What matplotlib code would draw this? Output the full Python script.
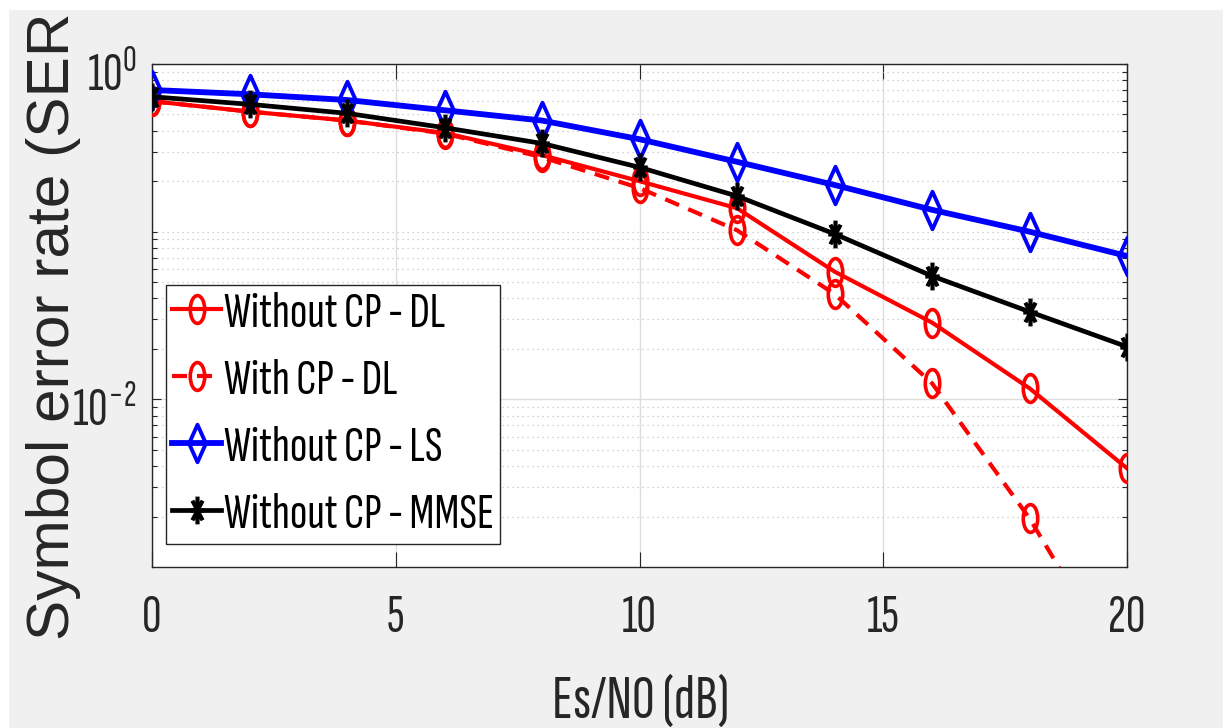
import numpy as np
import matplotlib
matplotlib.use("Agg")
import matplotlib.pyplot as plt
from matplotlib.path import Path
from matplotlib.transforms import Affine2D, ScaledTranslation
from matplotlib.patches import Rectangle
from matplotlib.ticker import NullFormatter, NullLocator

# ---------------- data ----------------
snr_db = [0, 2, 4, 6, 8, 10, 12, 14, 16, 18, 20]
ser_dl_without_cp = [0.60, 0.52, 0.46, 0.388, 0.286, 0.200, 0.138, 0.0578, 0.0287, 0.01164, 0.00388]
ser_dl_with_cp = [0.60, 0.52, 0.46, 0.385, 0.278, 0.182, 0.102, 0.0425, 0.01247, 0.00195, 0.00021]
ser_ls_without_cp = [0.70, 0.66, 0.61, 0.53, 0.46, 0.356, 0.261, 0.190, 0.135, 0.100, 0.0716]
ser_mmse_without_cp = [0.638, 0.575, 0.508, 0.417, 0.336, 0.242, 0.163, 0.097, 0.0544, 0.0333, 0.0206]
labels = ["Without CP - DL", "With CP - DL", "Without CP - LS", "Without CP - MMSE"]
x_ticks = [0, 5, 10, 15, 20]
y_ticks = [1e-2, 1e0]
y_tick_labels = [r"$\mathregular{10^{-2}}$", r"$\mathregular{10^{0}}$"]
x_label = "Es/N0 (dB)"
y_label = "Symbol error rate (SER"

TXT = "Sofia Sans Extra Condensed"
plt.rcParams["font.family"] = [TXT, "Liberation Sans", "DejaVu Sans"]
plt.rcParams["mathtext.fontset"] = "custom"
plt.rcParams["mathtext.rm"] = TXT

# ---------------- markers (squeezed horizontally like the reference) ----------------
SX = 0.52
m_circle = Path.unit_circle().transformed(Affine2D().scale(SX, 1.0))
SD = 0.45
m_diamond = Path([(0, 1), (SD, 0), (0, -1), (-SD, 0), (0, 1)],
                 [Path.MOVETO, Path.LINETO, Path.LINETO, Path.LINETO, Path.CLOSEPOLY])
d = 0.707
m_star = Path([(0, -1), (0, 1), (-SX, 0), (SX, 0), (-SX * d, -d), (SX * d, d), (-SX * d, d), (SX * d, -d)],
              [Path.MOVETO, Path.LINETO] * 4)

W, H = 1223, 728
fig = plt.figure(figsize=(W / 100, H / 100), dpi=100, facecolor="#f0f0f0")
ax = fig.add_axes([152 / W, 1 - 567 / H, (1127 - 152) / W, (567 - 64) / H])
ax.set_facecolor("white")

ax.plot(snr_db, ser_dl_without_cp, color="red", lw=3.0, marker=m_circle, ms=20,
        mfc="none", mec="red", mew=2.6, label=labels[0], zorder=3)
ax.plot(snr_db, ser_dl_with_cp, color="red", lw=3.0, ls="--", dashes=(3.6, 2.4), marker=m_circle, ms=20,
        mfc="none", mec="red", mew=2.6, label=labels[1], zorder=3)
ax.plot(snr_db, ser_ls_without_cp, color="blue", lw=4.2, marker=m_diamond, ms=27,
        mfc="none", mec="blue", mew=2.8, label=labels[2], zorder=4)
ax.plot(snr_db, ser_mmse_without_cp, color="black", lw=3.4, marker=m_star, ms=20,
        mfc="none", mec="black", mew=3.0, label=labels[3], zorder=5)

ax.set_yscale("log")
ax.set_xlim(0, 20)
ax.set_ylim(1e-3, 1)
ax.set_xticks(x_ticks)
ax.set_xticklabels([str(v) for v in x_ticks])
ax.set_yticks(y_ticks)
ax.set_yticklabels(y_tick_labels)
minor = [m * 10.0 ** e for e in (-3, -2, -1) for m in range(1, 10) if not (m == 1 and e in (-3, -2))]
ax.set_yticks(minor, minor=True)
ax.yaxis.set_minor_formatter(NullFormatter())
ax.xaxis.set_minor_locator(NullLocator())

ax.grid(True, which="major", color="#dedede", lw=1.0, ls="-")
ax.grid(True, which="minor", axis="y", color="#c4c4c4", lw=0.9, ls=(0, (1, 3)))
ax.set_axisbelow(True)

for s in ax.spines.values():
    s.set_color("#262626")
    s.set_linewidth(1.0)
ax.tick_params(axis="x", which="major", direction="in", length=11, width=0.8, colors="#262626",
               top=True, labelsize=39, pad=20)
ax.tick_params(axis="y", which="major", direction="in", length=6.5, width=0.8, colors="#262626",
               right=True, labelsize=39, pad=11)
ax.tick_params(axis="y", which="minor", direction="in", length=3.6, width=0.8, colors="#262626",
               right=True)
shift_down = ScaledTranslation(0, -0.08, fig.dpi_scale_trans)
for lab in ax.get_yticklabels():
    lab.set_transform(lab.get_transform() + shift_down)

leg = ax.legend(loc="upper left", bbox_to_anchor=(166 / W, 1 - 285 / H), bbox_transform=fig.transFigure,
                borderaxespad=0, fontsize=37, handlelength=0.95, handletextpad=0.06,
                labelspacing=0.43, borderpad=0.12, fancybox=False, framealpha=1, edgecolor="#262626")
leg.get_frame().set_linewidth(1.0)

fig.text(641 / W, 1 - 702 / H, x_label, ha="center", va="center", fontsize=45, color="#262626")
fig.text(81 / W, 1 - 640 / H, y_label, ha="left", va="bottom", rotation=90, rotation_mode="anchor",
         fontsize=43.5, color="#262626", family="Liberation Sans")

fig.patches.append(Rectangle((0, 1 - 10 / H), 1, 10 / H, transform=fig.transFigure,
                             facecolor="white", edgecolor="none", zorder=10))
fig.patches.append(Rectangle((0, 0), 9 / W, 1, transform=fig.transFigure,
                             facecolor="white", edgecolor="none", zorder=10))

fig.savefig("out.png", dpi=100, facecolor=fig.get_facecolor())
